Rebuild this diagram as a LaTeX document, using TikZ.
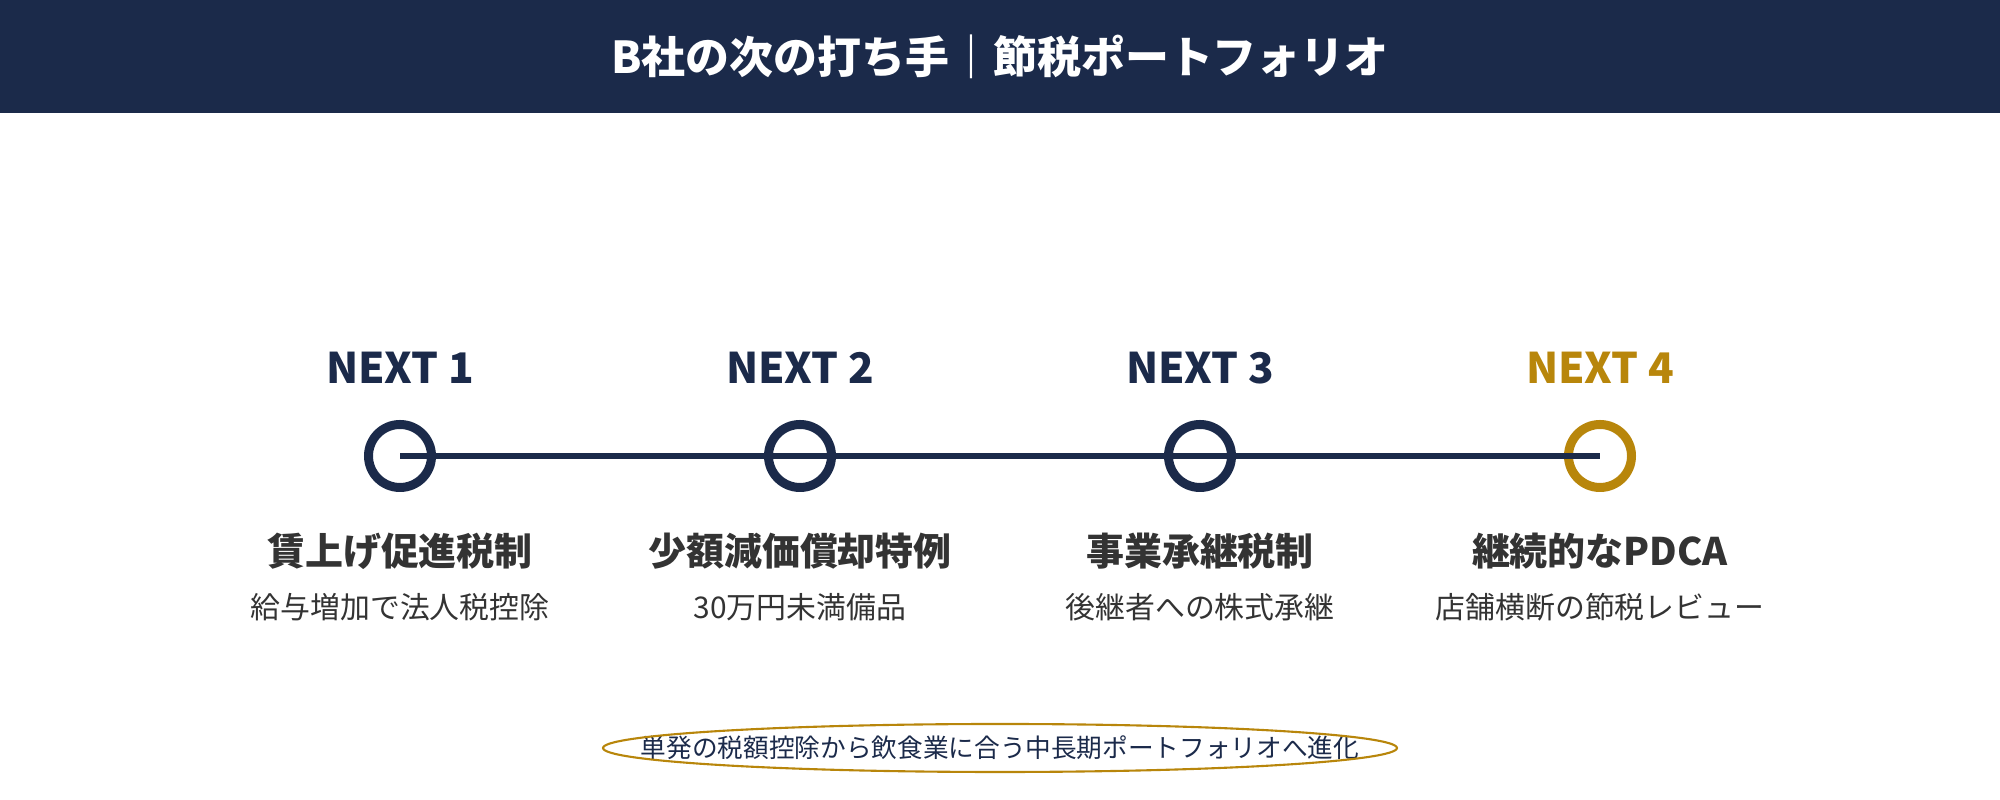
\documentclass[tikz,border=0pt]{standalone}
\usepackage{fontspec}
\setmainfont{Noto Sans CJK JP}
\usepackage{tikz}
\usetikzlibrary{positioning,calc}
\definecolor{navy}{HTML}{1B2A4A}
\definecolor{gold}{HTML}{B8860B}
\definecolor{ink}{HTML}{333333}
\tikzset{
  ring/.style={circle,draw=navy,line width=2.56pt,minimum size=0.63cm,inner sep=0pt},
  nextlabel/.style={font=\fontsize{12}{14}\selectfont\bfseries,text=navy},
  itemtitle/.style={font=\fontsize{10.8}{13}\selectfont\bfseries,text=ink},
  itemsub/.style={font=\fontsize{8.5}{10}\selectfont,text=ink}
}

\begin{document}
\begin{tikzpicture}
			\useasboundingbox (0,0) rectangle (20,8);
			\fill[navy] (0,8) rectangle (20,6.87);
			\node[font=\fontsize{12.5}{14}\selectfont\bfseries,text=white] (title) at (10,7.43) {B社の次の打ち手｜節税ポートフォリオ};
			% timeline
			\node[ring] (n1) at (4,3.44) {};
			\node[ring] (n2) at (8,3.44) {};
			\node[ring] (n3) at (12,3.44) {};
			\node[ring,draw=gold] (n4) at (16,3.44) {};
			\draw[navy,line width=1.7pt] (n1.center) -- (n4.center);
			\node[nextlabel] (l1) at (4,4.32) {NEXT 1};
			\node[nextlabel] (l2) at (8,4.32) {NEXT 2};
			\node[nextlabel] (l3) at (12,4.32) {NEXT 3};
			\node[nextlabel,text=gold] (l4) at (16,4.32) {NEXT 4};
			\node[itemtitle] (t1) at (4,2.49) {賃上げ促進税制};
			\node[itemtitle] (t2) at (8,2.49) {少額減価償却特例};
			\node[itemtitle] (t3) at (12,2.49) {事業承継税制};
			\node[itemtitle] (t4) at (16,2.49) {継続的なPDCA};
			\node[itemsub] (s1) at (4,1.93) {給与増加で法人税控除};
			\node[itemsub] (s2) at (8,1.93) {30万円未満備品};
			\node[itemsub] (s3) at (12,1.93) {後継者への株式承継};
			\node[itemsub] (s4) at (16,1.93) {店舗横断の節税レビュー};
			% summary
			\node[font=\fontsize{7.3}{9}\selectfont,text=navy] (note) at (10,0.52) {単発の税額控除から飲食業に合う中長期ポートフォリオへ進化};
			\draw[gold,line width=0.6pt] (note.center) ellipse [x radius=3.97, y radius=0.24];
			\end{tikzpicture}
\end{document}
